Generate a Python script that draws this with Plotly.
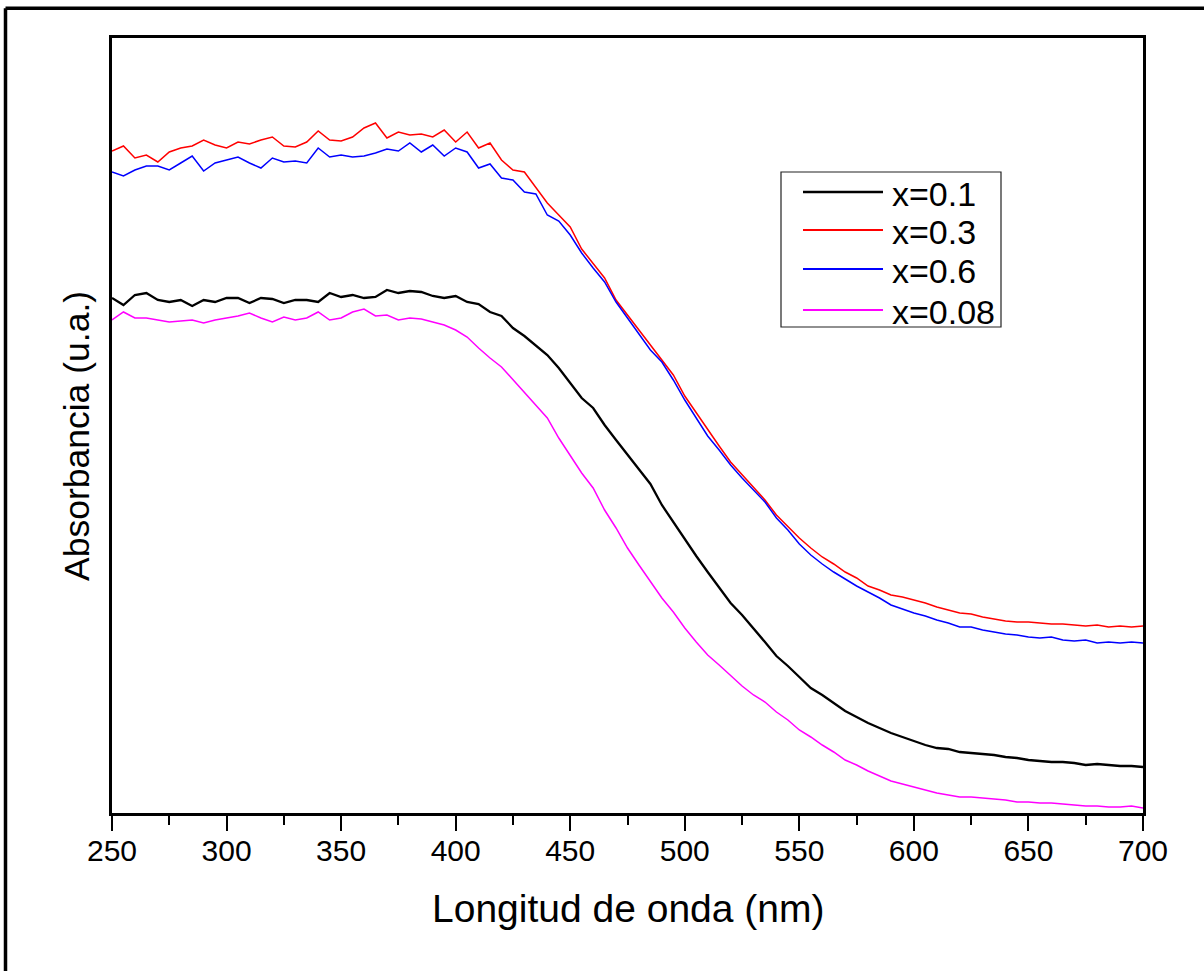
import plotly.graph_objects as go

wavelength = list(range(250, 701, 5))

abs_x01 = [0.515, 0.508, 0.518, 0.520, 0.513, 0.511, 0.513, 0.507, 0.513, 0.511,
           0.515, 0.515, 0.510, 0.515, 0.514, 0.510, 0.513, 0.513, 0.511, 0.520,
           0.516, 0.518, 0.515, 0.516, 0.523, 0.520, 0.522, 0.521, 0.517, 0.515,
           0.517, 0.511, 0.509, 0.501, 0.497, 0.485, 0.477, 0.467, 0.458, 0.445,
           0.430, 0.415, 0.405, 0.388, 0.373, 0.358, 0.343, 0.329, 0.308, 0.291,
           0.273, 0.257, 0.241, 0.225, 0.210, 0.198, 0.185, 0.171, 0.157, 0.147,
           0.136, 0.125, 0.118, 0.110, 0.102, 0.096, 0.090, 0.085, 0.080, 0.076,
           0.072, 0.068, 0.065, 0.064, 0.061, 0.060, 0.059, 0.058, 0.056, 0.055,
           0.053, 0.052, 0.051, 0.051, 0.050, 0.048, 0.049, 0.048, 0.047, 0.047,
           0.046]

abs_x03 = [0.662, 0.667, 0.655, 0.658, 0.651, 0.661, 0.665, 0.667, 0.673, 0.668,
           0.665, 0.671, 0.669, 0.673, 0.676, 0.667, 0.666, 0.671, 0.682, 0.673,
           0.672, 0.676, 0.685, 0.690, 0.675, 0.681, 0.678, 0.679, 0.676, 0.683,
           0.671, 0.681, 0.665, 0.670, 0.653, 0.643, 0.641, 0.626, 0.610, 0.598,
           0.586, 0.564, 0.550, 0.535, 0.513, 0.498, 0.483, 0.467, 0.453, 0.438,
           0.417, 0.400, 0.383, 0.367, 0.351, 0.338, 0.325, 0.313, 0.298, 0.286,
           0.275, 0.265, 0.256, 0.249, 0.241, 0.235, 0.227, 0.223, 0.218, 0.216,
           0.213, 0.210, 0.206, 0.203, 0.200, 0.199, 0.196, 0.194, 0.192, 0.191,
           0.191, 0.190, 0.189, 0.189, 0.188, 0.187, 0.188, 0.186, 0.187, 0.186,
           0.187]

abs_x06 = [0.641, 0.637, 0.643, 0.647, 0.647, 0.643, 0.650, 0.657, 0.642, 0.650,
           0.653, 0.656, 0.650, 0.645, 0.655, 0.651, 0.652, 0.650, 0.665, 0.656,
           0.658, 0.656, 0.657, 0.660, 0.664, 0.662, 0.670, 0.661, 0.668, 0.657,
           0.665, 0.661, 0.645, 0.649, 0.635, 0.633, 0.621, 0.619, 0.598, 0.592,
           0.578, 0.560, 0.545, 0.531, 0.511, 0.495, 0.480, 0.463, 0.451, 0.433,
           0.413, 0.395, 0.377, 0.363, 0.348, 0.335, 0.323, 0.311, 0.295, 0.283,
           0.269, 0.258, 0.249, 0.241, 0.234, 0.227, 0.221, 0.215, 0.208, 0.204,
           0.200, 0.197, 0.193, 0.190, 0.186, 0.186, 0.183, 0.181, 0.179, 0.178,
           0.176, 0.175, 0.176, 0.173, 0.172, 0.173, 0.170, 0.171, 0.170, 0.171,
           0.170]

abs_x008 = [0.493, 0.501, 0.495, 0.495, 0.493, 0.491, 0.492, 0.493, 0.490, 0.493,
            0.495, 0.497, 0.500, 0.495, 0.491, 0.496, 0.493, 0.495, 0.501, 0.493,
            0.495, 0.501, 0.504, 0.497, 0.498, 0.493, 0.495, 0.494, 0.491, 0.488,
            0.483, 0.476, 0.465, 0.455, 0.446, 0.433, 0.421, 0.408, 0.395, 0.375,
            0.358, 0.340, 0.325, 0.303, 0.285, 0.265, 0.248, 0.231, 0.215, 0.201,
            0.185, 0.171, 0.158, 0.148, 0.137, 0.127, 0.118, 0.111, 0.101, 0.093,
            0.083, 0.076, 0.068, 0.061, 0.053, 0.048, 0.042, 0.037, 0.032, 0.029,
            0.026, 0.023, 0.020, 0.018, 0.016, 0.016, 0.015, 0.014, 0.013, 0.011,
            0.011, 0.010, 0.010, 0.009, 0.008, 0.007, 0.007, 0.006, 0.006, 0.007,
            0.005]

series_names = ["x=0.1", "x=0.3", "x=0.6", "x=0.08"]
series_values = [abs_x01, abs_x03, abs_x06, abs_x008]
series_colors = ["#000000", "#ff0000", "#0000ff", "#ff00ff"]
series_widths = [2.3, 1.5, 1.5, 1.5]

x_tick_values = [250, 300, 350, 400, 450, 500, 550, 600, 650, 700]
x_title = "Longitud de onda (nm)"
y_title = "Absorbancia (u.a.)"

FONT = "Arial, 'Liberation Sans', sans-serif"

fig = go.Figure()
for name, vals, col, w in zip(series_names, series_values, series_colors, series_widths):
    fig.add_trace(go.Scatter(x=wavelength, y=vals, mode="lines", name=name,
                             line=dict(color=col, width=w), showlegend=False))

W, H = 1204, 971
L, R, T, B = 112, 61, 38, 158
pw, ph = W - L - R, H - T - B

def px2x(px):
    return (px - L) / pw

def py2y(py):
    return (H - B - py) / ph

shapes = []
# outer figure frame (left and top edges visible)
shapes.append(dict(type="line", xref="paper", yref="paper", x0=px2x(5.5), x1=px2x(5.5),
                   y0=py2y(8.3), y1=py2y(1000), line=dict(color="black", width=3.5)))
shapes.append(dict(type="line", xref="paper", yref="paper", x0=px2x(5.5), x1=px2x(1230),
                   y0=py2y(8.3), y1=py2y(8.3), line=dict(color="black", width=3.5)))
# legend box
shapes.append(dict(type="rect", xref="paper", yref="paper", x0=px2x(781), x1=px2x(1001),
                   y0=py2y(327), y1=py2y(172), line=dict(color="#222222", width=1.2),
                   fillcolor="white", layer="above"))

annotations = []
legend_rows = [192, 230, 269, 310]
for name, col, w, row in zip(series_names, series_colors, series_widths, legend_rows):
    shapes.append(dict(type="line", xref="paper", yref="paper", x0=px2x(803), x1=px2x(883),
                       y0=py2y(row), y1=py2y(row), line=dict(color=col, width=w + 0.3),
                       layer="above"))
    annotations.append(dict(xref="paper", yref="paper", x=px2x(890), y=py2y(row + 2),
                            xanchor="left", yanchor="middle", text=name, showarrow=False,
                            font=dict(family=FONT, size=34, color="black")))

annotations.append(dict(xref="paper", yref="paper", x=px2x(628), y=py2y(908),
                        xanchor="center", yanchor="middle", text=x_title, showarrow=False,
                        font=dict(family=FONT, size=39, color="black")))
annotations.append(dict(xref="paper", yref="paper", x=px2x(77), y=py2y(436),
                        xanchor="center", yanchor="middle", text=y_title, showarrow=False,
                        textangle=-90, font=dict(family=FONT, size=35.5, color="black")))

fig.update_layout(
    width=W, height=H,
    margin=dict(l=L, r=R, t=T, b=B),
    paper_bgcolor="white", plot_bgcolor="white",
    shapes=shapes, annotations=annotations,
    font=dict(family=FONT, color="black"),
    xaxis=dict(range=[250, 700], tickvals=x_tick_values, ticks="outside", ticklen=15,
               tickwidth=2.2, tickcolor="black", showline=True, linecolor="black",
               linewidth=2.5, mirror=True, showgrid=False, zeroline=False,
               ticklabelstandoff=-6,
               tickfont=dict(family=FONT, size=30, color="black"),
               minor=dict(dtick=25, tick0=250, ticks="outside", ticklen=9, tickwidth=2,
                          tickcolor="black", showgrid=False)),
    yaxis=dict(range=[0, 0.775], showticklabels=False, ticks="", showline=True,
               linecolor="black", linewidth=2.5, mirror=True, showgrid=False,
               zeroline=False),
)

fig.write_html("out.html", config={"displayModeBar": False},
               post_script="document.body.style.margin='0';document.body.style.overflow='hidden';")
